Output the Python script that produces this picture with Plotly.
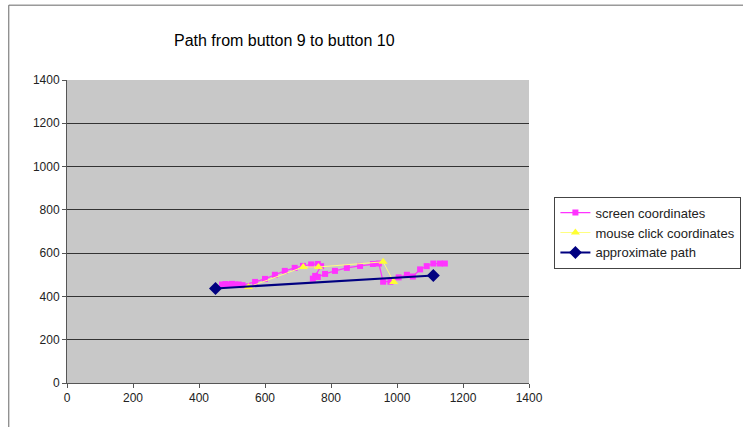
import plotly.graph_objects as go

# screen coordinates (magenta squares)
screen_x = [470, 480, 490, 500, 510, 520, 532, 570, 600, 630, 660, 690, 715, 740, 760, 770,
            752, 745, 760, 782, 812, 848, 888, 927, 945,
            958, 980, 1005, 1030, 1048, 1070, 1090, 1110, 1130, 1145]
screen_y = [455, 457, 455, 458, 455, 455, 452, 467, 481, 500, 518, 532, 541, 548, 550, 540,
            495, 482, 490, 504, 518, 532, 541, 550, 552,
            468, 468, 488, 500, 492, 525, 540, 552, 552, 552]

# mouse click coordinates (yellow triangles)
click_x = [550, 716, 762, 958, 990]
click_y = [443, 536, 536, 560, 467]

# approximate path (navy diamonds)
path_x = [450, 1110]
path_y = [437, 497]

x_ticks = [0, 200, 400, 600, 800, 1000, 1200, 1400]
y_ticks = [0, 200, 400, 600, 800, 1000, 1200, 1400]

fig = go.Figure()
fig.add_trace(go.Scatter(
    x=screen_x, y=screen_y, name="screen coordinates", mode="lines+markers",
    line=dict(color="#ff33ff", width=1.2),
    marker=dict(symbol="square", size=6, color="#ff33ff")))
fig.add_trace(go.Scatter(
    x=click_x, y=click_y, name="mouse click coordinates", mode="lines+markers",
    line=dict(color="#ffff80", width=1),
    marker=dict(symbol="triangle-up", size=8, color="#ffff33")))
fig.add_trace(go.Scatter(
    x=path_x, y=path_y, name="approximate path", mode="lines+markers",
    line=dict(color="#000080", width=2),
    marker=dict(symbol="diamond", size=10, color="#000080")))

fig.update_layout(
    width=743, height=427,
    margin=dict(l=67, r=214, t=80, b=44, autoexpand=False),
    paper_bgcolor="white", plot_bgcolor="#c8c8c8",
    font=dict(family="Arial, Liberation Sans, sans-serif", size=12, color="#222"),
    showlegend=True,
    legend=dict(x=1.055, y=0.615, xanchor="left", yanchor="top",
                bgcolor="white", bordercolor="#444", borderwidth=1,
                font=dict(size=13, color="#222"), tracegroupgap=0, itemwidth=30),
    annotations=[dict(text="Path from button 9 to button 10", x=0.47, y=1.165,
                      xref="paper", yref="paper", showarrow=False,
                      font=dict(size=16, color="#000"))],
    shapes=[dict(type="rect", xref="paper", yref="paper", x0=-0.126, x1=1.7,
                 y0=-0.5, y1=1.247, line=dict(color="#666", width=1))],
)
fig.update_xaxes(range=[0, 1400], tickvals=x_ticks, showgrid=False, zeroline=False,
                 showline=True, linecolor="#555", linewidth=1,
                 ticks="outside", ticklen=4, tickcolor="#555", mirror=False)
fig.update_yaxes(range=[0, 1400], tickvals=y_ticks, showgrid=True, gridcolor="#333",
                 gridwidth=1, zeroline=False, showline=True, linecolor="#555",
                 linewidth=1, ticks="outside", ticklen=4, tickcolor="#555")
fig.write_html("out.html")
